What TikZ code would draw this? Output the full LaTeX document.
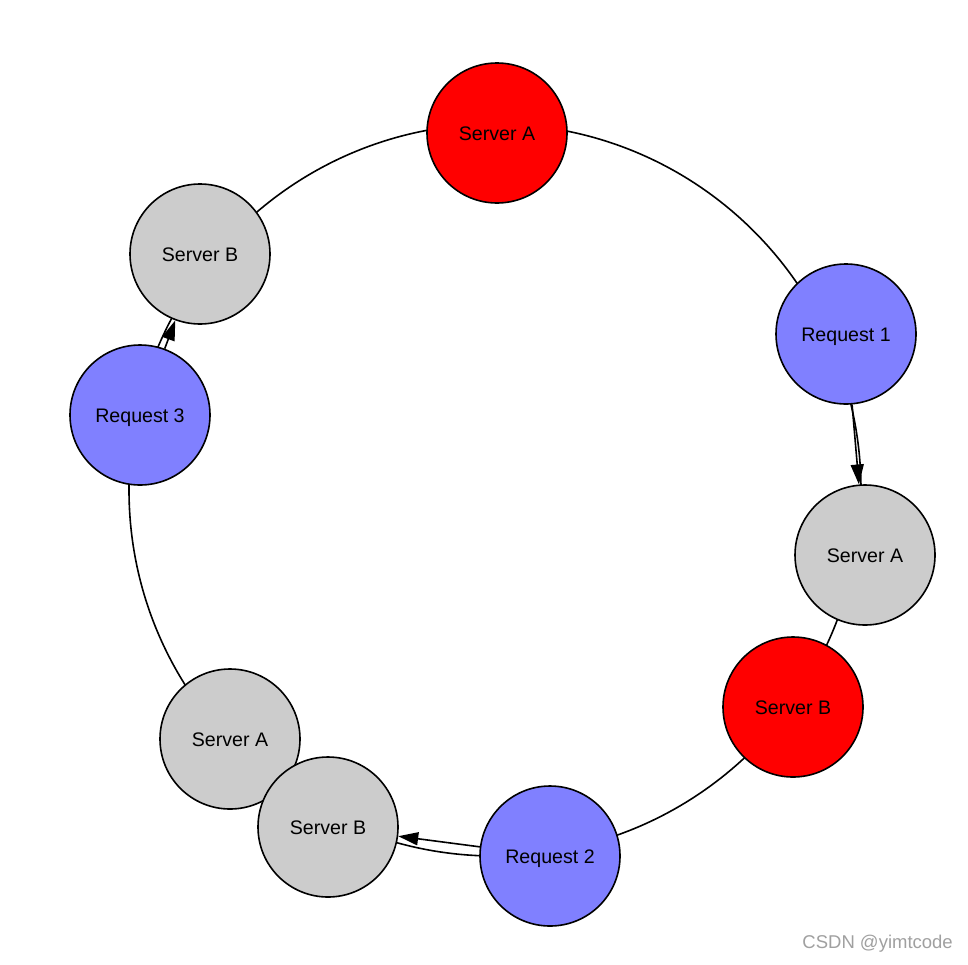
\documentclass[tikz,border=0pt]{standalone}
\usepackage{fontspec}
\setmainfont{Liberation Sans}
\usetikzlibrary{arrows.meta}
\definecolor{srvred}{RGB}{255,0,0}
\definecolor{reqblue}{RGB}{128,128,255}
\definecolor{srvgray}{RGB}{204,204,204}
\definecolor{wmgray}{RGB}{160,160,160}
\begin{document}
\begin{tikzpicture}[x=1pt,y=-1pt,
  ball/.style={circle,draw=black,line width=1.6pt,minimum size=140pt,inner sep=0pt,
    text height=14pt,text depth=0pt,
    font=\fontsize{19.6}{21}\selectfont},
  hot/.style={ball,fill=srvred},
  req/.style={ball,fill=reqblue},
  cold/.style={ball,fill=srvgray},
  ringline/.style={draw=black,line width=1.6pt},
  hop/.style={draw=black,line width=1.6pt,-{Triangle[length=20pt,width=13pt]}}]
\useasboundingbox (0,0) rectangle (968,964);
\fill[white] (0,0) rectangle (968,964);
% ring
\node[circle,ringline,minimum size=732pt,inner sep=0pt] (ring) at (495,490) {};
% nodes
\node[hot]  (sa1) at (497,133) {Server A};
\node[req]  (r1)  at (846,334) {Request 1};
\node[cold] (sa2) at (865,555) {Server A};
\node[hot]  (sb1) at (793,707) {Server B};
\node[req]  (r2)  at (550,856) {Request 2};
\node[cold] (sa3) at (230,739) {Server A};
\node[cold] (sb2) at (328,827) {Server B};
\node[req]  (r3)  at (140,415) {Request 3};
\node[cold] (sb3) at (200,254) {Server B};
% arrows
\draw[hop] (r1) -- (sa2);
\draw[hop] (r2) -- (sb2);
\draw[hop] (r3) -- (sb3);
% watermark
\node[anchor=east,text=wmgray,font=\fontsize{18.5}{19}\selectfont,inner sep=0pt] (wm) at (953,944) {CSDN @yimtcode};
\end{tikzpicture}
\end{document}
